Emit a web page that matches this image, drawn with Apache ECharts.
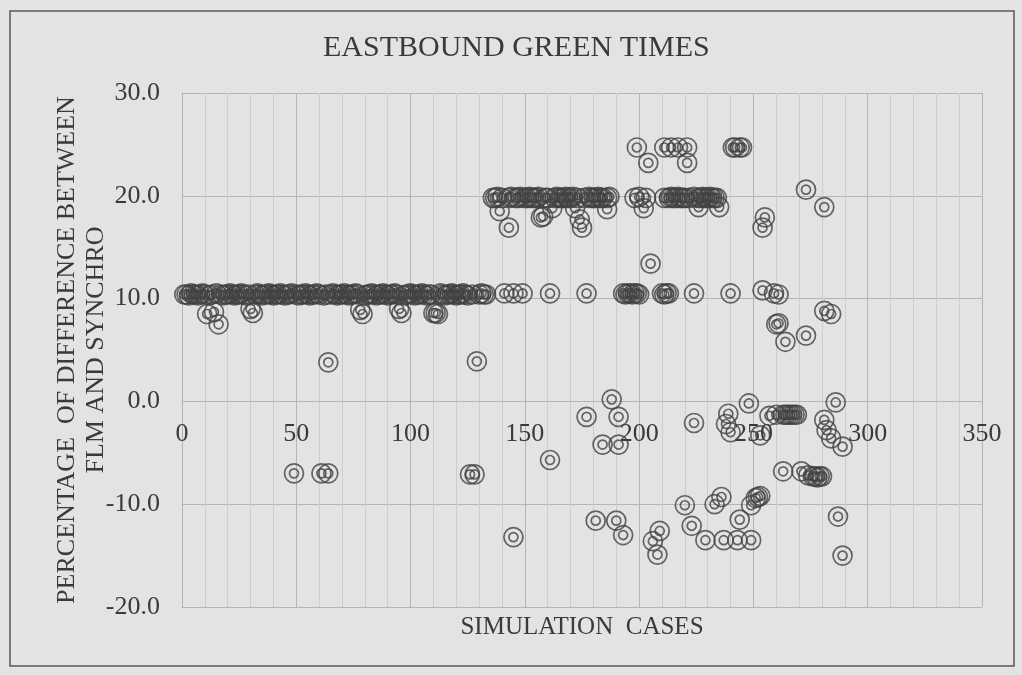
<!DOCTYPE html>
<html>
<head>
<meta charset="utf-8">
<script src="https://cdn.jsdelivr.net/npm/echarts@6/dist/echarts.min.js"></script>
<style>
html, body { margin: 0; padding: 0; background: #e3e3e3; }
#chart { width: 1022px; height: 675px; }
</style>
</head>
<body>
<div id="chart"></div>
<script>
// [simulation case, % difference FLM vs SYNCHRO]
var plateauLow = [
  [1, 10.4], [2, 10.4], [3, 10.3], [4, 10.5], [5, 10.4], [6, 10.4], [7, 10.3], [8, 10.4], [9, 10.5], [10, 10.4],
  [12, 10.3], [13, 10.4], [15, 10.5], [17, 10.4], [18, 10.3], [19, 10.4], [20, 10.4],
  [21, 10.5], [22, 10.4], [23, 10.3], [24, 10.4], [25, 10.4], [26, 10.5], [27, 10.4], [28, 10.3], [29, 10.4],
  [32, 10.4], [33, 10.5], [34, 10.4], [35, 10.3], [36, 10.4], [37, 10.4], [38, 10.5], [39, 10.4], [40, 10.3],
  [41, 10.4], [42, 10.4], [43, 10.5], [44, 10.4], [45, 10.3], [46, 10.4], [47, 10.4], [48, 10.5], [50, 10.4],
  [51, 10.3], [52, 10.4], [53, 10.4], [54, 10.5], [55, 10.4], [56, 10.3], [57, 10.4], [58, 10.4], [59, 10.5], [60, 10.4],
  [62, 10.3], [63, 10.4], [65, 10.4], [66, 10.5], [67, 10.4], [68, 10.3], [69, 10.4], [70, 10.4],
  [71, 10.5], [72, 10.4], [73, 10.3], [74, 10.4], [75, 10.4], [76, 10.5], [77, 10.4], [80, 10.3],
  [81, 10.4], [82, 10.4], [83, 10.5], [84, 10.4], [85, 10.3], [86, 10.4], [87, 10.4], [88, 10.5], [89, 10.4], [90, 10.3],
  [91, 10.4], [92, 10.4], [93, 10.5], [94, 10.4], [97, 10.3], [98, 10.4], [99, 10.4], [100, 10.5],
  [101, 10.4], [102, 10.3], [103, 10.4], [104, 10.4], [105, 10.5], [106, 10.4], [107, 10.3], [108, 10.4], [109, 10.4],
  [113, 10.5], [114, 10.4], [115, 10.3], [116, 10.4], [117, 10.4], [118, 10.5], [119, 10.4], [120, 10.3],
  [121, 10.4], [122, 10.4], [123, 10.5], [124, 10.4], [125, 10.3], [127, 10.4], [130, 10.4],
  [131, 10.5], [132, 10.4], [133, 10.4]
]
var dipsLeft = [
  [11, 8.5], [14, 8.7], [16, 7.5], [30, 9.0], [31, 8.6], [78, 8.9], [79, 8.5],
  [95, 9.0], [96, 8.6], [110, 8.6], [111, 8.6], [112, 8.5], [64, 3.8], [129, 3.9]
]
var negLeft = [[49, -7.0], [61, -7.0], [64, -7.0], [126, -7.1], [128, -7.1]]
var plateauHigh = [
  [136, 19.8], [137, 19.8], [138, 19.9], [140, 19.8], [143, 19.8], [144, 19.9], [146, 19.8], [147, 19.8],
  [148, 19.9], [150, 19.8], [151, 19.8], [152, 19.9], [153, 19.8], [154, 19.8], [155, 19.8], [156, 19.9],
  [159, 19.8], [160, 19.8], [163, 19.8], [164, 19.9], [165, 19.8], [166, 19.8], [167, 19.8], [168, 19.9],
  [169, 19.8], [170, 19.8], [171, 19.9], [173, 19.8], [176, 19.8], [178, 19.9], [179, 19.8], [180, 19.8],
  [181, 19.8], [182, 19.9], [183, 19.8], [184, 19.8], [186, 19.8], [187, 19.9],
  [198, 19.8], [200, 19.9], [203, 19.8], [211, 19.8], [213, 19.8], [214, 19.9], [215, 19.8], [216, 19.8],
  [217, 19.9], [218, 19.8], [219, 19.8], [220, 19.8], [222, 19.8], [224, 19.9], [226, 19.8], [227, 19.8],
  [228, 19.9], [229, 19.8], [230, 19.8], [231, 19.9], [232, 19.8], [233, 19.8], [234, 19.8]
]
var nearHigh = [
  [139, 18.5], [186, 18.7], [143, 16.9], [157, 17.9], [158, 18.0], [162, 18.8], [172, 18.8],
  [174, 17.7], [175, 16.9], [202, 18.8], [226, 18.9], [235, 18.9],
  [273, 20.6], [281, 18.9], [255, 17.9], [254, 16.9], [205, 13.4]
]
var top25 = [
  [199, 24.7], [204, 23.2], [211, 24.7], [214, 24.7], [217, 24.7], [221, 24.7], [221, 23.2],
  [241, 24.7], [242, 24.7], [244, 24.7], [245, 24.7]
]
var lowRight = [
  [141, 10.5], [145, 10.5], [149, 10.5], [161, 10.5], [177, 10.5], [193, 10.5], [194, 10.4], [195, 10.5],
  [196, 10.5], [197, 10.4], [198, 10.5], [199, 10.5], [200, 10.4], [210, 10.5], [211, 10.4], [212, 10.5],
  [213, 10.5], [224, 10.5], [240, 10.5], [254, 10.8], [259, 10.5], [261, 10.4],
  [281, 8.8], [284, 8.5], [260, 7.5], [261, 7.6], [273, 6.4], [264, 5.8]
]
var nearZero = [
  [188, 0.2], [177, -1.5], [191, -1.5], [184, -4.2], [191, -4.2], [161, -5.7], [224, -2.1],
  [239, -1.2], [238, -2.2], [240, -3.0], [248, -0.2], [286, -0.1], [253, -3.3], [257, -1.4],
  [260, -1.3], [263, -1.3], [264, -1.3], [265, -1.3], [266, -1.3], [267, -1.3], [268, -1.3], [269, -1.3],
  [281, -1.8], [282, -2.8], [284, -3.6], [289, -4.4]
]
var negRight = [
  [263, -6.8], [271, -6.8], [274, -7.2], [276, -7.3], [277, -7.3], [278, -7.4], [279, -7.3], [280, -7.3]
]
var negLow = [
  [145, -13.2], [181, -11.6], [190, -11.6], [193, -13.0], [206, -13.6], [208, -14.9], [209, -12.6],
  [220, -10.1], [223, -12.1], [229, -13.5], [233, -10.0], [236, -9.3], [237, -13.5], [244, -11.5],
  [243, -13.5], [249, -10.1], [249, -13.5], [251, -9.4], [252, -9.3], [253, -9.2], [287, -11.2], [289, -15.0]
]

var serif = 'Liberation Serif'
var ink = '#3a3a3a'
var points = [].concat(plateauLow, dipsLeft, negLeft, plateauHigh, nearHigh, top25, lowRight, nearZero, negRight, negLow)

var chart = echarts.init(document.getElementById('chart'))
var ring = { color: 'rgba(0,0,0,0)', borderColor: '#424242', borderWidth: 1.7 }
var option = {
  backgroundColor: '#e3e3e3',
  animation: false,
  title: {
    text: 'EASTBOUND GREEN TIMES',
    left: 318,
    top: 28,
    textStyle: { fontFamily: serif, fontSize: 30, fontWeight: 'normal', color: ink }
  },
  grid: { left: 182, right: 40, top: 93, bottom: 68, containLabel: false, outerBoundsMode: 'none' },
  xAxis: {
    type: 'value',
    min: 0,
    max: 350,
    interval: 50,
    // the axis crosses at 0 %, like the Excel original
    offset: -206,
    name: 'SIMULATION  CASES',
    nameLocation: 'middle',
    nameGap: 214,
    nameMoveOverlap: false,
    nameTextStyle: { fontFamily: serif, fontSize: 25, color: ink },
    axisLine: { onZero: false, lineStyle: { color: '#b5b5b5', width: 1 } },
    axisTick: { show: false },
    axisLabel: { fontFamily: serif, fontSize: 26, color: ink, margin: 20 },
    splitLine: { show: true, lineStyle: { color: '#b5b5b5', width: 1 } },
    minorTick: { show: false, splitNumber: 5 },
    minorSplitLine: { show: true, lineStyle: { color: '#cdcdcd', width: 1 } }
  },
  yAxis: {
    type: 'value',
    min: -20,
    max: 30,
    interval: 10,
    name: 'PERCENTAGE  OF DIFFERENCE BETWEEN\nFLM AND SYNCHRO',
    nameLocation: 'middle',
    nameGap: 71,
    nameMoveOverlap: false,
    nameTextStyle: { fontFamily: serif, fontSize: 26, lineHeight: 29, color: ink },
    axisLine: { show: true, lineStyle: { color: '#b5b5b5', width: 1 } },
    axisTick: { show: false },
    axisLabel: {
      fontFamily: serif, fontSize: 26, color: ink, margin: 22,
      formatter: function(v) { return v.toFixed(1) }
    },
    splitLine: { lineStyle: { color: '#b5b5b5', width: 1 } }
  },
  graphic: [{
    type: 'rect',
    silent: true,
    shape: { x: 10, y: 11, width: 1004, height: 655 },
    style: { fill: 'none', stroke: '#5a5a5a', lineWidth: 1.5 }
  }],
  series: [
    { type: 'scatter', data: points, symbol: 'circle', symbolSize: 19, itemStyle: ring, silent: true },
    { type: 'scatter', data: points, symbol: 'circle', symbolSize: 9, itemStyle: ring, silent: true }
  ]
}
chart.setOption(option, true)
</script>
</body>
</html>
